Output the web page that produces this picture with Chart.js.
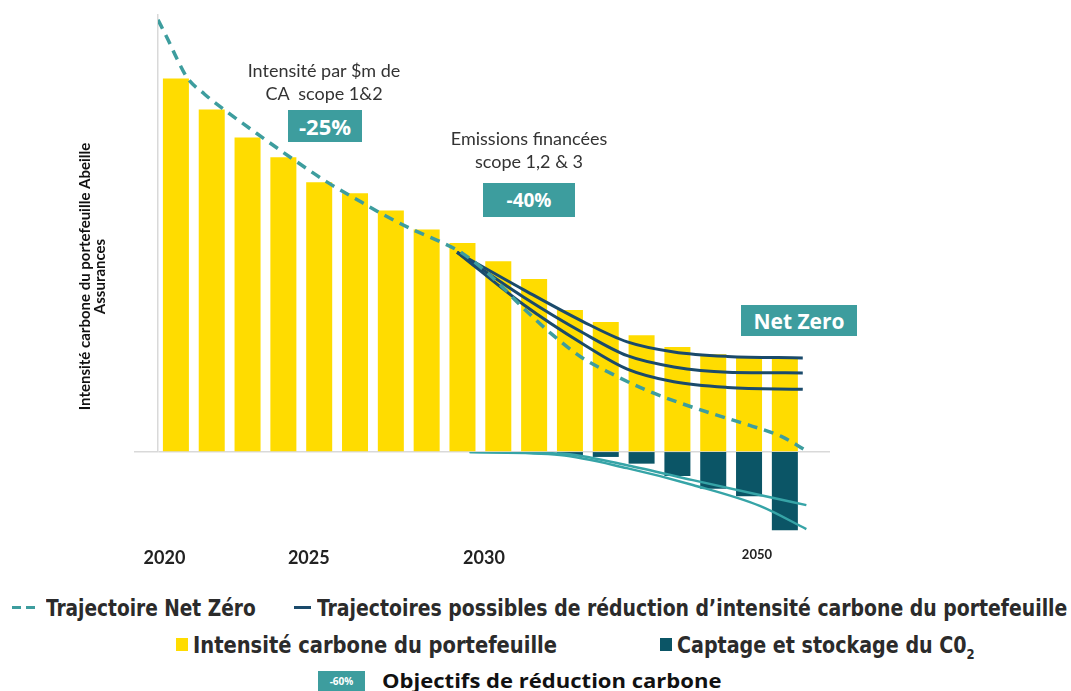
<!DOCTYPE html>
<html lang="fr">
<head>
<meta charset="UTF-8">
<title>Trajectoire Net Zéro - Abeille Assurances</title>
<script src="https://cdn.jsdelivr.net/npm/chart.js"></script>
<style>
  body { margin: 0; background: #fff; }
  #page { position: relative; width: 1071px; height: 691px; overflow: hidden; font-family: Lato, "Open Sans", sans-serif; }
  canvas { position: absolute; left: 0; top: 0; }
  .note { position: absolute; transform: translateX(-50%); text-align: center; font-size: 18px; line-height: 23px; color: #333; white-space: pre; }
  .tag { position: absolute; background: #3d9d9e; color: #fff; font-family: "Open Sans", sans-serif; font-weight: 700;
         display: flex; align-items: center; justify-content: center; }
  .leg { position: absolute; font-family: "Liberation Sans Narrow", "DejaVu Sans Condensed", sans-serif; font-weight: 700;
         font-size: 23px; line-height: 26px; color: #2b2b2b; white-space: nowrap; transform-origin: 0 50%; }
  .mk { position: absolute; }
</style>
</head>
<body>
<div id="page">
  <canvas id="graph" width="1071" height="575"></canvas>

  <div class="note" style="left:324px; top:59px;">Intensité par $m de
CA  scope 1&amp;2</div>
  <div class="tag" style="left:288px; top:110px; width:74px; height:32px; font-size:22px;">-25%</div>

  <div class="note" style="left:529px; top:127px;">Emissions financées
scope 1,2 &amp; 3</div>
  <div class="tag" style="left:483px; top:183px; width:92px; height:34px; font-size:19px;">-40%</div>

  <div class="tag" style="left:741px; top:305px; width:116px; height:31px; font-size:21px;">Net Zero</div>

  <!-- légende -->
  <div class="mk" style="left:12px; top:606px; width:9px; height:3px; background:#3d9d9e;"></div>
  <div class="mk" style="left:26px; top:606px; width:9px; height:3px; background:#3d9d9e;"></div>
  <div class="leg" data-w="210" style="left:46px; top:595px;">Trajectoire Net Zéro</div>
  <div class="mk" style="left:294px; top:606px; width:17px; height:3px; background:#1a4a6b;"></div>
  <div class="leg" data-w="751" style="left:317px; top:595px;">Trajectoires possibles de réduction d’intensité carbone du portefeuille</div>

  <div class="mk" style="left:176px; top:638px; width:12px; height:13px; background:#ffdc00;"></div>
  <div class="leg" data-w="364" style="left:193px; top:632px;">Intensité carbone du portefeuille</div>
  <div class="mk" style="left:660px; top:638px; width:12px; height:13px; background:#0b5566;"></div>
  <div class="leg" data-w="298" style="left:677px; top:632px;">Captage et stockage du C0<sub style="font-size:14px;">2</sub></div>

  <div class="tag" style="left:318px; top:671px; width:47px; height:20px; font-size:10px;">-60%</div>
  <div class="leg" data-w="340" style="left:382px; top:668px; font-family:'Open Sans',sans-serif; font-size:19px; color:#111;">Objectifs de réduction carbone</div>
</div>

<script>
    // Intensité carbone du portefeuille (indice, première barre = 100), une valeur par barre
    const intensite = [100, 91.7, 84.2, 78.9, 72.2, 69.3, 64.7, 59.6, 56.0, 51.1, 46.3, 38.0, 34.8, 31.3, 28.1, 26.2, 25.4, 25.4];
    // Captage et stockage du CO2 (sous l'axe)
    const captage = [null, null, null, null, null, null, null, null, null, null, null, -0.8, -1.3, -3.1, -6.4, -9.8, -11.8, -20.9];

    // Étiquettes de l'axe horizontal et leur place (en rang de barre)
    const tickLabels = ['2020', '2025', '2030', '2050'];
    const tickPos = [-0.32, 3.71, 8.6, 16.22];

    // Trajectoire Net Zéro (pointillés)
    const netZeroX = [-0.5, -0.22, 0.03, 0.31, 0.8, 1.3, 2.4, 3.3, 4.2, 5.0, 5.8, 6.6, 7.4, 8.0, 8.9, 9.65, 10.5, 11.35, 12.2, 13.1, 14.0, 15.0, 16.0, 16.9, 17.56];
    const netZeroY = [115.7, 110.4, 105.3, 100.3, 95.8, 92.0, 84.3, 78.2, 72.4, 67.9, 63.5, 59.6, 56.2, 53.2, 46.2, 39.0, 31.5, 25.2, 20.8, 16.7, 13.4, 10.2, 7.2, 4.2, 0.6];

    // Trajectoires possibles de réduction (3 courbes)
    const trajX = [7.85, 9.7, 11.35, 12.6, 13.9, 15.4, 17.5];
    const trajHaute = [53.5, 43.5, 35.0, 29.5, 26.8, 25.6, 25.2];
    const trajMoyenne = [53.5, 41.5, 32.0, 25.8, 22.8, 21.4, 21.2];
    const trajBasse = [53.5, 39.5, 29.0, 22.2, 18.8, 17.3, 16.8];

    // Courbes du captage sous l'axe
    const captX = [8.2, 10.72, 12.59, 14.43, 16.3, 17.6];
    const captHaute = [0, -0.4, -3.5, -7.5, -11.5, -14.2];
    const captBasse = [0, -0.8, -4.3, -8.8, -14.4, -20.6];

    const JAUNE = '#ffdc00';
    const PETROLE = '#0b5566';
    const TURQUOISE = '#3d9d9e';
    const MARINE = '#1a4a6b';

    const pts = (xs, ys) => xs.map((x, i) => ({ x: x, y: ys[i] }));
    const courbe = (label, xs, ys, axe, couleur, largeur, dash) => ({
        type: 'line', label: label, data: pts(xs, ys), yAxisID: axe,
        borderColor: couleur, borderWidth: largeur, borderDash: dash || [],
        pointRadius: 0, cubicInterpolationMode: 'monotone', fill: false, order: 1
    });

    new Chart(document.getElementById('graph'), {
        type: 'bar',
        data: {
            datasets: [
                courbe('Trajectoire Net Zéro', netZeroX, netZeroY, 'y', TURQUOISE, 3.5, [10, 7]),
                courbe('Trajectoire haute', trajX, trajHaute, 'y', MARINE, 3),
                courbe('Trajectoire médiane', trajX, trajMoyenne, 'y', MARINE, 3),
                courbe('Trajectoire basse', trajX, trajBasse, 'y', MARINE, 3),
                courbe('Captage haut', captX, captHaute, 'yNeg', '#36a4a7', 2.5),
                courbe('Captage bas', captX, captBasse, 'yNeg', '#36a4a7', 2.5),
                {
                    type: 'bar', label: 'Intensité carbone du portefeuille',
                    data: intensite.map((v, i) => ({ x: i, y: v })), yAxisID: 'y',
                    backgroundColor: JAUNE, grouped: false, barPercentage: 0.726, categoryPercentage: 1, order: 2
                },
                {
                    type: 'bar', label: 'Captage et stockage du C0₂',
                    data: captage.map((v, i) => ({ x: i, y: v })), yAxisID: 'yNeg',
                    backgroundColor: PETROLE, grouped: false, barPercentage: 0.726, categoryPercentage: 1, order: 2
                }
            ]
        },
        options: {
            responsive: false,
            animation: false,
            events: [],
            layout: { padding: { left: 74, right: 241, top: 15, bottom: 0 } },
            plugins: { legend: { display: false }, tooltip: { enabled: false } },
            scales: {
                x: {
                    type: 'linear', min: -0.5, max: 18.26, offset: false,
                    grid: { display: false, drawTicks: false, offset: false },
                    border: { display: false },
                    afterBuildTicks: s => { s.ticks = tickPos.map(v => ({ value: v })); },
                    afterFit: s => { s.height = 37; },
                    ticks: {
                        autoSkip: false, maxRotation: 0, padding: 9, color: '#222',
                        callback: (v, i) => tickLabels[i],
                        font: c => c.index === 3
                            ? { family: 'Lato', size: 13, weight: 'bold' }
                            : { family: 'Lato', size: 18, weight: 'bold' }
                    }
                },
                yTitre: {
                    type: 'linear', position: 'left', weight: 2,
                    grid: { display: false }, border: { display: false }, ticks: { display: false },
                    afterFit: s => { s.width = 83; },
                    title: {
                        display: true,
                        text: ['Intensité carbone du portefeuille Abeille', 'Assurances'],
                        font: { family: 'Lato', size: 15, weight: 'bold', lineHeight: 1.0 },
                        color: '#111', padding: { top: 4, bottom: 0 }
                    }
                },
                y: {
                    type: 'linear', position: 'left', stack: 'v', stackWeight: 117, weight: 1,
                    min: 0, max: 117,
                    ticks: { display: false },
                    afterBuildTicks: s => { s.ticks = [{ value: 0 }]; },
                    grid: { color: '#d9d9d9', lineWidth: 1.5, tickLength: 24 },
                    border: { color: '#d9d9d9', width: 1.5 },
                    afterFit: s => { s.width = 1; }
                },
                yNeg: {
                    type: 'linear', position: 'left', stack: 'v', stackWeight: 23, weight: 0,
                    min: -23, max: 0,
                    ticks: { display: false }, grid: { display: false }, border: { display: false },
                    afterFit: s => { s.width = 1; }
                }
            }
        }
    });

    // ajuste la largeur des textes de légende à celle de l'original
    document.querySelectorAll('.leg').forEach(el => {
        const k = Number(el.dataset.w) / el.offsetWidth;
        el.style.transform = 'scaleX(' + k.toFixed(3) + ')';
    });
</script>
</body>
</html>
